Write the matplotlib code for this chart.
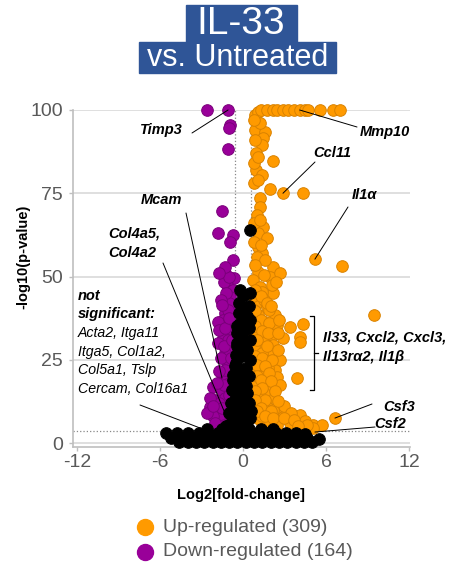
import matplotlib
matplotlib.use("Agg")
import matplotlib.pyplot as plt
from matplotlib.lines import Line2D
from matplotlib.patches import Rectangle

plt.rcParams['font.family'] = ['Liberation Sans', 'DejaVu Sans']
plt.rcParams['axes.unicode_minus'] = False

# up-regulated genes (orange)
up_x = [0.87, 1.1, 1.3, 1.75, 2.2, 2.46, 2.9, 3.25, 3.7, 4.1, 4.5, 4.7, 5.6, 6.5, 7.0,
        0.87, 1.59, 1.45, 1.37, 0.94, 2.17, 0.94, 1.37, 1.95, 2.89, 4.34, 1.23, 1.23, 1.0,
        1.45, 1.1, 1.74, 1.1, 1.37, 5.2, 7.16, 2.17, 1.1, 1.95, 2.67, 0.72, 1.23, 2.17,
        2.1, 1.37, 1.1, 1.74, 1.08, 2.3, 9.5, 1.6, 2.46, 3.4, 4.34, 1.23, 2.1, 2.9, 4.1,
        4.1, 1.45, 2.17, 1.23, 1.95, 1.6, 2.67, 1.23, 2.3, 1.6, 2.46, 3.9, 1.0, 1.8, 2.67,
        1.23, 2.1, 1.08, 1.74, 2.53, 2.9, 4.1, 5.06, 5.7, 6.65, 0.72, 1.23, 1.95, 3.4, 2.46,
        5.06, 0.75, 0.8, 0.7, 0.75, 0.8, 0.7, 0.75, 0.8, 0.7, 0.75, 0.8, 1.5, 1.9, 1.4, 1.8,
        1.5, 1.4, 3.0, 3.5, 4.5, 2.2,
        0.9, 1.3, 1.7, 2.0, 0.9, 1.3, 1.9, 2.6, 0.9, 1.4, 1.8, 2.5, 1.0, 1.7, 2.5, 0.9,
        1.4, 2.1, 1.0, 1.6, 1.9, 1.0, 1.3, 2.0, 1.4, 2.3, 0.9, 1.6, 2.5, 0.9, 1.3, 2.0,
        1.0, 1.6, 2.2, 3.0, 3.7, 4.6, 4.0, 1.0, 1.6, 0.9, 1.5, 2.4, 0.8, 1.3, 0.8, 1.2,
        0.8, 1.1, 0.8, 1.1, 0.9, 1.2, 0.8]
up_y = [98.5, 99.5, 100, 100, 100, 100, 100, 100, 100, 100, 100, 100, 100, 100, 100,
        94, 93.4, 91.6, 89.5, 87, 84.7, 82, 80.5, 76.3, 75, 75, 73.6, 71, 68.5,
        65, 63, 61.6, 59, 57, 55.2, 53.2, 53, 51.4, 49.8, 51, 49, 47, 45,
        47.4, 45.3, 42.3, 40.8, 38.4, 38.4, 38.4, 36.3, 35.4, 34.8, 35.7, 34, 32.4, 31.5, 31.8,
        30.3, 30.3, 29.4, 27.9, 27, 24.9, 24.9, 22.8, 21.9, 20.4, 19.8, 19.5, 17.4, 16.8, 17.4,
        14.4, 13.8, 12, 10.8, 9, 7.8, 8.4, 5.4, 5.4, 7.5, 7.8, 6.9, 6, 6, 5.4,
        4.5, 44, 40, 36, 32, 29, 25, 21, 18, 14, 11, 9, 43, 40, 27, 22.5,
        15, 8, 11, 9, 6.5, 10,
        46, 44, 42, 41, 39.5, 37, 36, 37, 35, 33.5, 33, 33, 31, 29, 28, 26,
        25.5, 25, 23.5, 23, 21, 20, 19, 18.5, 16.5, 15.5, 15.5, 13, 12.5, 12.8, 10.5, 9.5,
        9.5, 8, 7.5, 7.5, 7, 5.5, 5.2, 56, 55, 53.5, 50.5, 48.5, 60.5, 59.5, 66, 67,
        78, 79, 84, 86, 91, 96, 97]

# down-regulated genes (purple)
down_x = [-2.6, -1.08, -0.94, -1.0, -1.08, -1.52, -1.8, -0.72, -0.94, -1.3, -0.65, -1.16,
          -0.72, -0.94, -1.3, -1.45, -0.94, -1.8, -1.16, -1.45, -1.08, -0.94, -1.3, -1.16,
          -1.52, -2.17, -1.52, -2.39, -1.8, -1.16, -1.66, -0.94, -2.0, -1.3, -0.8, -0.75,
          -0.7, -1.0, -1.2, -0.8, -2.2, -1.4,
          -1.4, -1.0, -1.2, -1.6, -1.1, -1.5, -1.7, -1.3, -1.0, -1.8, -1.4, -1.6, -0.9, -1.3,
          -1.7, -1.0, -1.4, -1.9, -1.7, -2.4, -2.6, -2.0, -1.2, -0.8, -1.5, -1.0, -2.2, -0.8,
          -1.3, -1.7]
down_y = [100, 100, 95.5, 94.5, 88.3, 69.7, 63, 62.5, 60.4, 51, 49.5, 47.4,
          46, 43.8, 39, 37, 35.4, 36.3, 33, 31.5, 31, 28, 27, 24.3,
          19, 16.8, 16, 10.8, 9.9, 9, 7.5, 6.9, 13, 13.5, 21, 40,
          55, 42, 20, 15, 8, 5.5,
          48.5, 50, 45, 43, 40, 41.5, 34, 34.5, 37.5, 30, 29, 25.5, 25.5, 22,
          21.5, 18, 17.5, 18, 12, 13.5, 9, 6, 5, 11, 10.5, 14.5, 11, 31,
          53, 51]

# not significant (black)
ns_x = [0.5, 0.5, -0.3, 0.1, 0.3, -0.2, 0.4, -0.4, 0.0, -0.4, 0.3, -0.1, -0.5, 0.2, -0.3,
        -0.7, 0.1, -0.5, 0.3, -0.2, -0.9, 0.4, -0.4, 0.0, -0.7, 0.5, -0.2, -1.0, 0.3, -0.5,
        -0.3, -0.4, -0.4, -0.2, -0.5, -0.6, -0.2, -0.7, -0.5, -0.8, -0.2, -0.8, -0.5, -1.0, -0.2,
        -0.9, -0.1, 0.1, -1.2, 0.6, 0.4, 0.5, 0.5, 0.4, 0.0, -0.2, 0.5, 0.1, -0.3, 0.2,
        -4.6, -4.0, -3.4, -2.8, -2.2, -1.6, -1.0, -0.4, 0.2, 0.8, 1.4, 2.0, 2.6, 3.2, 3.8, 4.4, 5.0,
        -5.2, -4.5, -3.8, -3.1, -2.4, -1.7, -1.0, -0.3, 0.4, 1.1, 1.8, 2.5, 3.2, 3.9, 4.6, 5.5,
        -5.6, -4.8, -4.0, -3.2, -2.5, -1.8, -1.1, -0.4, 0.3, 1.0, 1.7, 2.4, 3.1, 3.8, 4.5,
        -2.6, -1.5, -0.6, 0.4, 1.3, 2.2]
ns_y = [64, 45, 42, 40, 38, 36, 34.5, 33, 31, 29, 28, 26, 24, 22.5, 21,
        19, 18, 16.5, 15, 13.5, 12, 12, 10.5, 9, 8, 7.5, 6.5, 5.5, 5, 4.5,
        39, 35, 30, 31.5, 26.5, 23, 27, 20.5, 19, 16, 18.5, 12, 14, 9, 11,
        6, 7.5, 4, 5, 9.5, 20, 25, 31, 41, 44, 46, 37, 34, 15, 17,
        0.3, 0.3, 0.3, 0.3, 0.3, 0.3, 0.3, 0.3, 0.3, 0.3, 0.3, 0.3, 0.3, 0.3, 0.3, 0.3, 0.3,
        1.6, 1.6, 1.6, 1.6, 1.6, 1.6, 1.6, 1.6, 1.6, 1.6, 1.6, 1.6, 1.6, 1.6, 1.6, 1.2,
        3.0, 3.0, 3.0, 3.0, 3.0, 3.0, 3.0, 3.0, 3.0, 3.0, 3.0, 3.0, 3.0, 3.0, 2.8,
        4.2, 4.2, 4.2, 4.2, 4.2, 4.2]

x_ticks = [-12, -6, 0, 6, 12]
y_ticks = [0, 25, 50, 75, 100]
fc_cut = 0.585
p_cut = 3.7

orange = '#FF9A00'
purple = '#990099'
gray_txt = '#595959'
blue = '#2F5597'


def F(x, y):
    # figure pixel (from top-left) -> figure fraction
    return (x / 452, 1 - y / 567)


fig = plt.figure(figsize=(4.52, 5.67), dpi=100)
ax = fig.add_axes([0.1613, 0.2116, 0.7465, 0.5944])
ax.set_xlim(-12.3, 12.1)
ax.set_ylim(-1.2, 100)

for yt in y_ticks:
    ax.axhline(yt, color='#D9D9D9', lw=1.2, zorder=0)
ax.axvline(-fc_cut, ymin=0.012, ymax=1, color='#888888', ls=':', lw=0.9, zorder=1)
ax.axvline(fc_cut, ymin=0.012, ymax=1, color='#888888', ls=':', lw=0.9, zorder=1)
ax.axhline(p_cut, color='#888888', ls=':', lw=0.9, zorder=1)

ax.scatter(up_x, up_y, s=70, c=orange, edgecolors='#D98200', linewidths=0.7, zorder=3, clip_on=False)
ax.scatter(down_x, down_y, s=70, c=purple, edgecolors='#7A007A', linewidths=0.7, zorder=4, clip_on=False)
ax.scatter(ns_x, ns_y, s=70, c='black', edgecolors='black', linewidths=0.7, zorder=5, clip_on=False)

ax.set_xticks(x_ticks)
ax.set_yticks(y_ticks)
ax.tick_params(axis='both', colors='#BFBFBF', labelcolor=gray_txt, labelsize=14, length=3, width=1)
ax.tick_params(axis='y', pad=4)
ax.tick_params(axis='x', pad=2)
for s in ['top', 'right']:
    ax.spines[s].set_visible(False)
for s in ['left', 'bottom']:
    ax.spines[s].set_color('#BFBFBF')
    ax.spines[s].set_linewidth(1.2)

fig.text(*F(23, 257), '-log10(p-value)', rotation=90, ha='center', va='center',
         fontsize=10.5, fontweight='bold')
fig.text(*F(241, 495), 'Log2[fold-change]', ha='center', va='center',
         fontsize=10.5, fontweight='bold')

# title boxes
fig.add_artist(Rectangle(F(186, 42), 111 / 452, 37 / 567, color=blue, transform=fig.transFigure))
fig.add_artist(Rectangle(F(139, 73), 197 / 452, 31 / 567, color=blue, transform=fig.transFigure))
fig.text(*F(241, 24), 'IL-33', color='white', fontsize=28, ha='center', va='center')
fig.text(*F(238, 58), 'vs. Untreated', color='white', fontsize=22, ha='center', va='center')

# gene labels
lab = dict(fontsize=10.5, fontweight='bold', fontstyle='italic', va='center')
fig.text(*F(140, 130), 'Timp3', ha='left', **lab)
fig.text(*F(360, 132), 'Mmp10', ha='left', **lab)
fig.text(*F(313, 153), 'Ccl11', ha='left', **lab)
fig.text(*F(352, 195), 'Il1α', ha='left', **lab)
fig.text(*F(141, 200), 'Mcam', ha='left', **lab)
fig.text(*F(108, 234), 'Col4a5,', ha='left', **lab)
fig.text(*F(108, 253), 'Col4a2', ha='left', **lab)
fig.text(*F(78, 296), 'not', ha='left', **lab)
fig.text(*F(78, 314), 'significant:', ha='left', **lab)
ns_lines = ['Acta2, Itga11', 'Itga5, Col1a2,', 'Col5a1, Tslp', 'Cercam, Col16a1']
for i, t in enumerate(ns_lines):
    fig.text(*F(78, 333 + i * 18.7), t, ha='left', va='center', fontsize=10.2, fontstyle='italic')
fig.text(*F(323, 337), 'Il33, Cxcl2, Cxcl3,', ha='left', **lab)
fig.text(*F(323, 357), 'Il13rα2, Il1β', ha='left', **lab)
fig.text(*F(383, 407), 'Csf3', ha='left', **lab)
fig.text(*F(374, 424), 'Csf2', ha='left', **lab)

# leader lines: (point in data, text end in figure pixels)
leaders = [((-1.08, 100), (192, 133)),
           ((4.1, 100), (357, 127)),
           ((2.89, 75), (315, 162)),
           ((5.2, 55.2), (348, 207)),
           ((-1.52, 19.5), (186, 213)),
           ((-1.16, 7.5), (163, 263)),
           ((-3.1, 4.5), (140, 405)),
           ((6.65, 7.5), (372, 404)),
           ((5.2, 3.3), (375, 427))]
for pt, tp in leaders:
    ax.annotate('', xy=pt, xytext=F(*tp), textcoords='figure fraction',
                arrowprops=dict(arrowstyle='-', lw=0.7, color='black', shrinkA=0, shrinkB=0),
                zorder=6)

# bracket
bx = [F(310, 316), F(314, 316), F(314, 390), F(310, 390)]
fig.add_artist(Line2D([p[0] for p in bx], [p[1] for p in bx], color='black', lw=0.9,
                      transform=fig.transFigure))
mt = [F(314, 353), F(318, 353)]
fig.add_artist(Line2D([p[0] for p in mt], [p[1] for p in mt], color='black', lw=0.9,
                      transform=fig.transFigure))

# legend
for yy, col, txt in [(527, orange, 'Up-regulated (309)'), (552, purple, 'Down-regulated (164)')]:
    cx, cy = F(145, yy)
    fig.add_artist(Line2D([cx], [cy], marker='o', ms=11.5, color=col, ls='',
                          transform=fig.transFigure))
    fig.text(*F(163, yy), txt, color=gray_txt, fontsize=14, ha='left', va='center')

fig.savefig('out.png', dpi=100)
